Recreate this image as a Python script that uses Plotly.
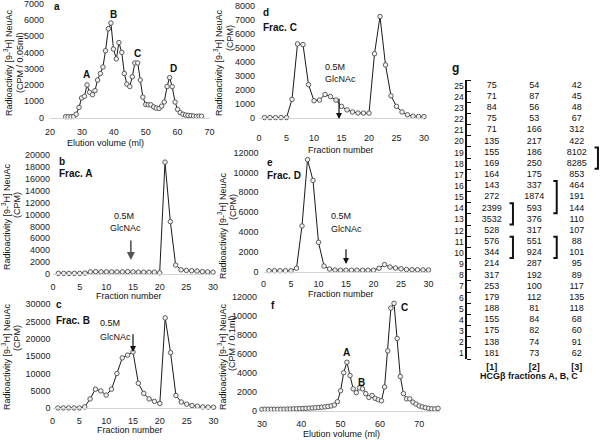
import plotly.graph_objects as go

W, H = 600, 440
FONT = "Arial, Liberation Sans, sans-serif"

# ---------------- data ----------------
# panel a : elution profile (ml vs CPM / 0.05 ml)
a_x = [24.9, 25.7, 26.6, 27.4, 28.2, 29.1, 29.9, 30.8, 31.6, 32.4,
       33.3, 34.1, 34.9, 35.8, 36.6, 37.4, 38.3, 39.1, 39.9, 40.8,
       41.6, 42.5, 43.3, 44.1, 45.0, 45.8, 46.6, 47.5, 48.3, 49.1,
       50.0, 50.8, 51.6, 52.5, 53.3, 54.2, 55.0, 55.8, 56.7, 57.5,
       58.3, 59.2, 60.0, 60.8, 61.7, 62.5, 63.3, 64.2, 65.0, 65.9,
       66.7, 67.5]
a_y = [50, 50, 50, 60, 200, 620, 1200, 1300, 2000, 1550,
       1400, 1650, 2300, 2700, 3100, 4100, 5450, 5800, 4200, 3600,
       4600, 4000, 2700, 2050, 1900, 2500, 3350, 3350, 2300, 1250,
       800, 780, 780, 650, 580, 560, 700, 950, 1900, 2450,
       1900, 950, 500, 300, 200, 150, 130, 110, 90, 70,
       80, 80]

# panels b-e : fraction number vs CPM
fractions = list(range(1, 31))
b_y = [100, 100, 100, 100, 100, 150, 350, 400, 350, 350,
       350, 350, 350, 400, 350, 300, 300, 300, 300, 200,
       18800, 8800, 1500, 700, 600, 550, 500, 400, 350, 300]
c_y = [100, 100, 100, 100, 100, 400, 2700, 5500, 5000, 3800,
       5500, 10000, 14500, 15300, 16200, 7200, 4300, 2700, 2000, 1400,
       26000, 16000, 3700, 1800, 1200, 800, 600, 400, 350, 300]
d_y = [50, 50, 50, 50, 50, 1350, 5300, 5250, 2400, 1250,
       1300, 1700, 1550, 1300, 850, 600, 450, 380, 370, 370,
       4600, 7250, 3800, 1600, 850, 450, 250, 150, 130, 120]
e_y = [80, 80, 80, 80, 80, 330, 4600, 11300, 9200, 2950,
       550, 250, 150, 130, 130, 130, 130, 130, 130, 130,
       330, 700, 450, 350, 270, 200, 180, 180, 160, 150]

# panel f : elution profile (ml vs CPM / 0.1 ml)
f_x = [30.0, 30.8, 31.6, 32.4, 33.2, 34.0, 34.8, 35.6, 36.4, 37.2,
       38.0, 38.8, 39.6, 40.4, 41.2, 42.0, 42.8, 43.6, 44.4, 45.2,
       46.0, 46.8, 47.6, 48.4, 49.2, 50.0, 50.8, 51.6, 52.4, 53.2,
       54.0, 54.8, 55.6, 56.4, 57.2, 58.0, 58.8, 59.6, 60.4, 61.2,
       62.0, 62.8, 63.6, 64.4, 65.2, 66.0, 66.8, 67.6, 68.4, 69.2,
       70.0, 70.8, 71.6, 72.4, 73.2, 74.0, 74.8]
f_y = [150, 150, 150, 150, 150, 150, 150, 160, 170, 180,
       190, 200, 210, 230, 250, 270, 290, 310, 340, 370,
       400, 450, 500, 600, 950, 2100, 4000, 5100, 3700, 2300,
       1900, 2400, 2300, 1800, 1400, 1600, 1300, 1150, 1050, 2500,
       6300, 10800, 11300, 7600, 3600, 1800, 1250, 1250, 900, 700,
       500, 400, 320, 250, 200, 180, 250]

# panel g : table of HCGbeta fractions
g_rows = list(range(25, 0, -1))
g_col1 = [75, 71, 84, 75, 71, 135, 155, 169, 164, 143, 272, 2399, 3532,
          528, 576, 344, 214, 317, 253, 179, 188, 155, 175, 138, 181]
g_col2 = [54, 87, 56, 53, 166, 217, 186, 250, 175, 337, 1874, 593, 376,
          317, 551, 924, 287, 192, 100, 112, 81, 84, 82, 74, 73]
g_col3 = [42, 45, 48, 67, 312, 422, 8102, 8285, 853, 464, 191, 144, 110,
          107, 88, 101, 95, 89, 117, 135, 118, 68, 60, 91, 62]
g_col_labels = ["[1]", "[2]", "[3]"]
g_brackets = [(1, 13, 14), (1, 10, 11), (2, 14, 16), (2, 10, 11), (3, 18, 19)]


def fx(p):
    return p / W


def fy(p):
    return 1 - p / H


fig = go.Figure()
layout = {}

specs = [
    # x data, y data, x px, y px (bottom, top), x range, y range, dtick x, dtick y, standoffs
    (a_x, a_y, (50, 209.5), (117.5, 3.5), [20, 70], [0, 7000], 10, 1000, 6, 5),
    (fractions, b_y, (53, 213), (274, 155), [0, 30], [0, 20000], 5, 2000, 4, 2),
    (fractions, c_y, (52.5, 213.5), (408.3, 304), [0, 30], [0, 30000], 5, 5000, 4, 1),
    (fractions, d_y, (259, 424), (118.3, 6), [0, 30], [0, 8000], 5, 1000, 11, 3),
    (fractions, e_y, (263.5, 428.5), (271.5, 152.7), [0, 30], [0, 12000], 5, 2000, 4, 4),
    (f_x, f_y, (262, 440), (410.7, 296.7), [30, 75.3], [0, 12000], 10, 2000, 4, 4),
]

tickfont = dict(family=FONT, size=9, color="#222")

for i, (xd, yd, xp, yp, xr, yr, dx, dy, xs, ys) in enumerate(specs, start=1):
    xa = "x" if i == 1 else f"x{i}"
    ya = "y" if i == 1 else f"y{i}"
    fig.add_trace(go.Scatter(
        x=xd, y=yd, mode="lines+markers", xaxis=xa, yaxis=ya,
        line=dict(color="#1a1a1a", width=1),
        marker=dict(symbol="circle", size=4.5, color="#f0f0f0",
                    line=dict(color="#4d4d4d", width=0.9)),
        cliponaxis=False, showlegend=False, hoverinfo="skip"))
    layout["xaxis" if i == 1 else f"xaxis{i}"] = dict(
        domain=[fx(xp[0]), fx(xp[1])], range=xr, anchor=ya, tick0=0, dtick=dx,
        showgrid=False, zeroline=False, showline=True, linecolor="#d4d4d4",
        linewidth=1, ticks="", ticklabelstandoff=xs, tickfont=tickfont,
        automargin=False, ticklabeloverflow="allow", tickformat="d")
    layout["yaxis" if i == 1 else f"yaxis{i}"] = dict(
        domain=[fy(yp[0]), fy(yp[1])], range=yr, anchor=xa, tick0=0, dtick=dy,
        showgrid=False, zeroline=False, showline=False, ticks="",
        ticklabelstandoff=ys, tickfont=tickfont, automargin=False,
        ticklabeloverflow="allow", tickformat="d")

# ---- panel g : table ----
g_x = [1] * len(g_rows) + [2] * len(g_rows) + [3] * len(g_rows)
g_y = g_rows * 3
g_text = [str(v) for v in g_col1 + g_col2 + g_col3]
fig.add_trace(go.Scatter(
    x=g_x, y=g_y, text=g_text, mode="text", xaxis="x7", yaxis="y7",
    textfont=dict(family=FONT, size=9, color="#111"), textposition="middle center",
    showlegend=False, hoverinfo="skip", cliponaxis=False))
layout["xaxis7"] = dict(
    domain=[fx(466.7), fx(600)], range=[0.412, 3.548], anchor="y7",
    tickvals=[1, 2, 3], ticktext=[f"<b>{t}</b>" for t in g_col_labels],
    showgrid=False, zeroline=False, showline=False, ticks="", automargin=False,
    ticklabelstandoff=1, tickfont=dict(family=FONT, size=9, color="#111"))
layout["yaxis7"] = dict(
    domain=[fy(359), fy(80)], range=[0.5, 25.5], anchor="x7",
    tickvals=g_rows, ticktext=[str(r) for r in g_rows],
    showgrid=False, zeroline=False, showline=True, linecolor="#111", linewidth=1.3,
    ticks="", ticklabelstandoff=0, automargin=False,
    minor=dict(tickmode="array", tickvals=[r + 0.5 for r in range(0, 26)],
               ticks="inside", ticklen=4, tickwidth=1, tickcolor="#111", showgrid=False),
    tickfont=dict(family=FONT, size=8.5, color="#111"))

bracket_x = {1: 1.5, 2: 2.53, 3: 3.5}
shapes = []
for col, r1, r2 in g_brackets:
    bx = bracket_x[col]
    y0, y1 = r1 - 0.45, r2 + 0.45
    shapes.append(dict(
        type="path", xref="x7", yref="y7",
        path=f"M {bx - 0.08},{y0} L {bx},{y0} L {bx},{y1} L {bx - 0.08},{y1}",
        line=dict(color="#111", width=2)))

# ---- annotations ----
ann = []


def text(xp, yp, s, size=9, bold=False, xanchor="center", angle=0, color="#111"):
    ann.append(dict(
        x=fx(xp), y=fy(yp), xref="paper", yref="paper", showarrow=False,
        text=f"<b>{s}</b>" if bold else s, textangle=angle,
        xanchor=xanchor, yanchor="middle",
        font=dict(family=FONT, size=size, color=color)))


RAD = "Radioactivity [9-<sup>3</sup>H] NeuAc"
# y titles
text(8, 63, RAD, angle=-90)
text(20, 63, "(CPM / 0.05ml)", angle=-90)
text(218, 63, RAD, angle=-90)
text(230, 38, "(CPM)", angle=-90)
text(6, 217, RAD, angle=-90)
text(17, 205, "(CPM)", angle=-90)
text(222, 226, RAD, angle=-90)
text(233, 207, "(CPM)", angle=-90)
text(6, 357, RAD, angle=-90)
text(17, 338, "(CPM)", angle=-90)
text(222, 357, RAD, angle=-90)
text(232, 343, "(CPM / 0.1ml)", angle=-90)

# x titles
text(105, 143, "Elution volume (ml)")
text(341, 149.5, "Fraction number")
text(129, 296, "Fraction number")
text(341, 294, "Fraction number")
text(130, 429.5, "Fraction number")
text(341, 433.5, "Elution volume (ml)")

# panel letters / fraction names
text(52, 7, "a", size=10, bold=True, xanchor="left")
text(261, 13, "d", size=10, bold=True, xanchor="left")
text(261, 27, "Frac. C", size=10, bold=True, xanchor="left")
text(57, 161, "b", size=10, bold=True, xanchor="left")
text(57, 173, "Frac. A", size=10, bold=True, xanchor="left")
text(265, 162, "e", size=10, bold=True, xanchor="left")
text(265, 175, "Frac. D", size=10, bold=True, xanchor="left")
text(54, 304, "c", size=10, bold=True, xanchor="left")
text(54, 320, "Frac. B", size=10, bold=True, xanchor="left")
text(269, 305, "f", size=10, bold=True, xanchor="left")
text(450, 68, "g", size=12, bold=True, xanchor="left")

# peak labels
text(86, 75, "A", size=10, bold=True)
text(113, 14, "B", size=10, bold=True)
text(137, 53, "C", size=10, bold=True)
text(173, 68, "D", size=10, bold=True)
text(346, 352, "A", size=10, bold=True)
text(361, 382, "B", size=10, bold=True)
text(404, 307, "C", size=10, bold=True)

# GlcNAc labels
text(124, 216, "0.5M")
text(125, 228, "GlcNAc")
text(98, 323, "0.5M", xanchor="left")
text(98, 337, "GlcNAc", xanchor="left")
text(323, 67, "0.5M", xanchor="left")
text(323, 79, "GlcNAc", xanchor="left")
text(329, 216, "0.5M", xanchor="left")
text(329, 229, "GlcNAc", xanchor="left")

# table caption
text(529, 376, "HCG\u03b2 fractions A, B, C", bold=True)

# arrows (head, tail in data units of each panel)
arrows = [
    ("x2", "y2", 14.6, 2350, 14.6, 5900, "#555", 1.6),
    ("x3", "y3", 15, 16200, 15, 21700, "#111", 1.2),
    ("x4", "y4", 14.55, -50, 14.55, 1500, "#111", 1.2),
    ("x5", "y5", 15, 760, 15, 2400, "#111", 1.2),
]
for xr_, yr_, hx, hy, tx, ty, col, wdt in arrows:
    ann.append(dict(
        x=hx, y=hy, ax=tx, ay=ty, xref=xr_, yref=yr_, axref=xr_, ayref=yr_,
        text="", showarrow=True, arrowhead=2, arrowsize=1, arrowwidth=wdt,
        arrowcolor=col, standoff=0, startstandoff=0))

fig.update_layout(
    template="none",
    width=W, height=H, margin=dict(l=0, r=0, t=0, b=0, autoexpand=False),
    paper_bgcolor="white", plot_bgcolor="white",
    font=dict(family=FONT, size=9, color="#111"),
    annotations=ann, shapes=shapes, showlegend=False, **layout)

fig.write_html(
    "out.html",
    config={"displayModeBar": False, "staticPlot": True},
    post_script="document.body.style.margin='0px';document.body.style.padding='0px';"
                "document.body.style.overflow='hidden';")
